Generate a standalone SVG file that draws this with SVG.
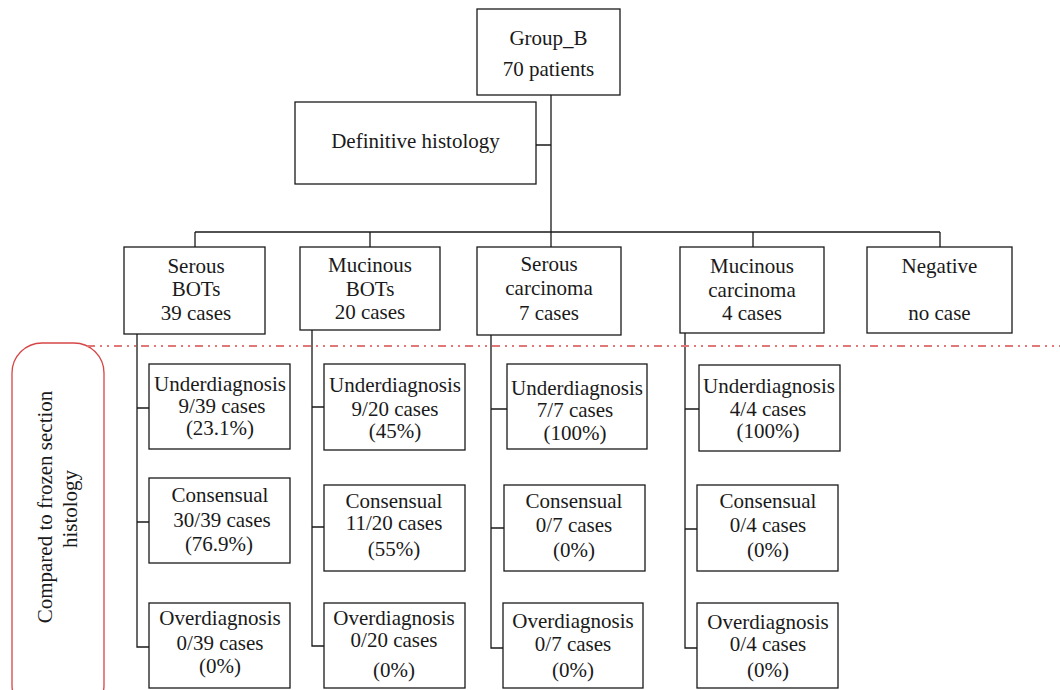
<svg xmlns="http://www.w3.org/2000/svg" width="1060" height="690" viewBox="0 0 1060 690">
<style>
.box{fill:#fff;stroke:#1a1a1a;stroke-width:1.3}
.ln{fill:none;stroke:#1a1a1a;stroke-width:1.3}
text{font-family:"Liberation Serif","Times New Roman",serif;font-size:21px;fill:#1a1a1a;text-anchor:middle}
</style>
<rect width="1060" height="690" fill="#fff"/>
<g id="connectors">
<path class="ln" d="M551 95V232M536 145H551M195 232H940M195 232V247M370 232V247M551 232V247M753 232V247M940 232V247"/>
<path class="ln" d="M137 334V647H149M137 408H149M137 522H149"/>
<path class="ln" d="M312 330V646H324M312 407H324M312 527H324"/>
<path class="ln" d="M491 335V648H503M491 409H507M491 528H504"/>
<path class="ln" d="M685 333V648H697M685 409H699M685 529H697"/>
</g>
<g id="section-label">
<rect x="12" y="343" width="92" height="372" rx="30" ry="30" fill="none" stroke="#d64545" stroke-width="1.3"/>
<text transform="translate(52,507) rotate(-90)">Compared to frozen section</text>
<text transform="translate(77,509) rotate(-90)">histology</text>
</g>
<line id="divider" x1="87" y1="346" x2="1060" y2="346" stroke="#e07878" stroke-width="2" stroke-dasharray="8 5 2 5 2 5"/>
<g id="groupB"><rect class="box" x="477" y="9" width="143" height="86"/><text x="548.5" y="45">Group_B</text><text x="548.5" y="76">70 patients</text></g>
<g id="definitive"><rect class="box" x="295" y="102" width="241" height="82"/><text x="415.5" y="148">Definitive histology</text></g>
<g id="serousBOTs"><rect class="box" x="124" y="247" width="141" height="87"/><text x="196" y="273">Serous</text><text x="196" y="296">BOTs</text><text x="196" y="320">39 cases</text></g>
<g id="mucinousBOTs"><rect class="box" x="300" y="247" width="140" height="83"/><text x="370" y="272">Mucinous</text><text x="370" y="296">BOTs</text><text x="370" y="319">20 cases</text></g>
<g id="serousCarcinoma"><rect class="box" x="477" y="247" width="144" height="88"/><text x="549" y="271">Serous</text><text x="549" y="295">carcinoma</text><text x="549" y="320">7 cases</text></g>
<g id="mucinousCarcinoma"><rect class="box" x="680" y="247" width="144" height="86"/><text x="752" y="273">Mucinous</text><text x="752" y="297">carcinoma</text><text x="752" y="320">4 cases</text></g>
<g id="negative"><rect class="box" x="867" y="247" width="145" height="86"/><text x="939.5" y="273">Negative</text><text x="939.5" y="320">no case</text></g>
<g id="sb-under"><rect class="box" x="149" y="364" width="141" height="85"/><text x="220" y="391">Underdiagnosis</text><text x="222" y="413">9/39 cases</text><text x="220" y="435">(23.1%)</text></g>
<g id="sb-cons"><rect class="box" x="149" y="478" width="141" height="85"/><text x="220" y="502">Consensual</text><text x="222" y="527">30/39 cases</text><text x="219" y="551">(76.9%)</text></g>
<g id="sb-over"><rect class="box" x="149" y="603" width="141" height="85"/><text x="220" y="625">Overdiagnosis</text><text x="220" y="650">0/39 cases</text><text x="220" y="673">(0%)</text></g>
<g id="mb-under"><rect class="box" x="324" y="364" width="141" height="86"/><text x="395" y="392">Underdiagnosis</text><text x="395" y="416">9/20 cases</text><text x="395" y="438">(45%)</text></g>
<g id="mb-cons"><rect class="box" x="324" y="485" width="141" height="86"/><text x="394" y="508">Consensual</text><text x="394" y="530">11/20 cases</text><text x="394" y="556">(55%)</text></g>
<g id="mb-over"><rect class="box" x="324" y="603" width="141" height="85"/><text x="394" y="625">Overdiagnosis</text><text x="394" y="647">0/20 cases</text><text x="394" y="677">(0%)</text></g>
<g id="sc-under"><rect class="box" x="507" y="364" width="140" height="85"/><text x="577" y="395">Underdiagnosis</text><text x="575" y="417">7/7 cases</text><text x="575" y="440">(100%)</text></g>
<g id="sc-cons"><rect class="box" x="504" y="485" width="141" height="86"/><text x="574" y="508">Consensual</text><text x="574" y="532">0/7 cases</text><text x="574" y="557">(0%)</text></g>
<g id="sc-over"><rect class="box" x="503" y="603" width="140" height="85"/><text x="573" y="628">Overdiagnosis</text><text x="573" y="651">0/7 cases</text><text x="573" y="677">(0%)</text></g>
<g id="mc-under"><rect class="box" x="699" y="365" width="141" height="86"/><text x="769" y="393">Underdiagnosis</text><text x="768" y="416">4/4 cases</text><text x="768" y="438">(100%)</text></g>
<g id="mc-cons"><rect class="box" x="697" y="485" width="141" height="86"/><text x="768" y="508">Consensual</text><text x="768" y="532">0/4 cases</text><text x="768" y="557">(0%)</text></g>
<g id="mc-over"><rect class="box" x="697" y="603" width="141" height="85"/><text x="768" y="629">Overdiagnosis</text><text x="768" y="651">0/4 cases</text><text x="768" y="677">(0%)</text></g>
</svg>
